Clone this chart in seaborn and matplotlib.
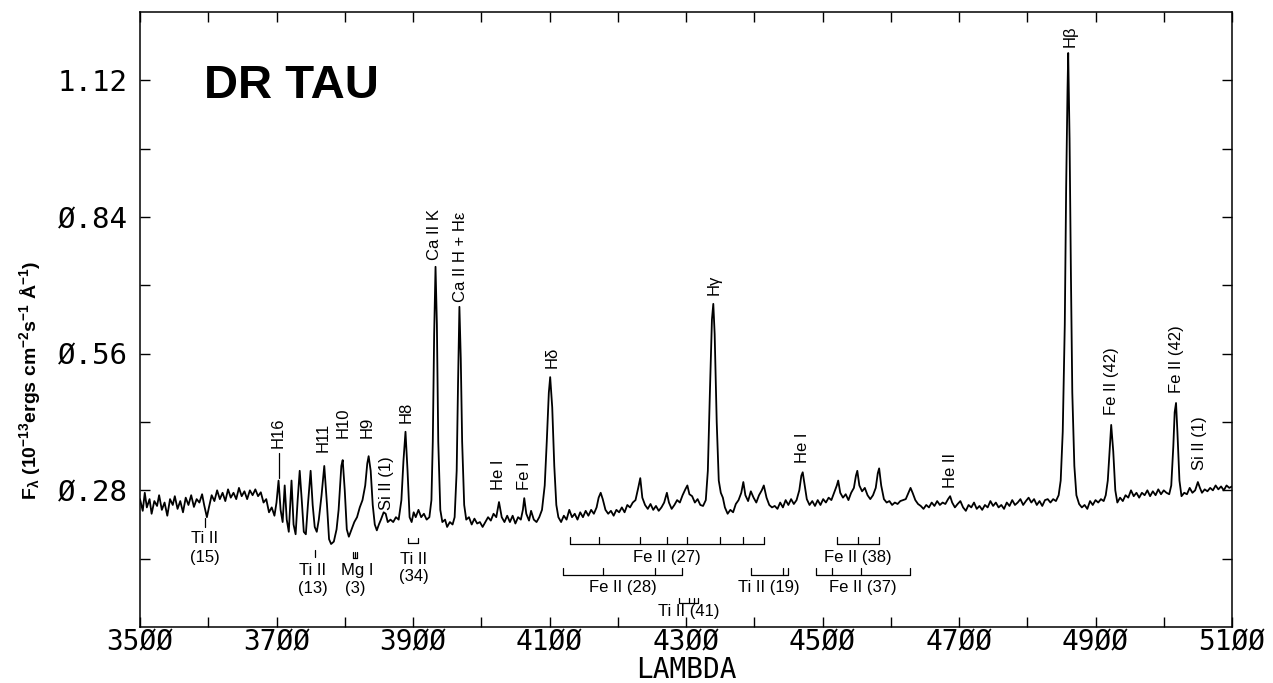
import numpy as np
import matplotlib
matplotlib.use("Agg")
import matplotlib.pyplot as plt
import seaborn as sns

# spectrum (wavelength in A, flux in 1e-13 erg/cm2/s/A)
wavelength = [
    3500, 3504, 3507, 3510, 3514, 3517, 3521, 3525, 3528, 3532,
    3536, 3540, 3544, 3548, 3551, 3555, 3559, 3563, 3567, 3571,
    3575, 3579, 3583, 3587, 3591, 3594, 3598, 3601, 3605, 3609,
    3613, 3617, 3621, 3625, 3629, 3633, 3637, 3641, 3645, 3649,
    3653, 3657, 3661, 3665, 3669, 3673, 3677, 3681, 3685, 3689,
    3693, 3697, 3700, 3703, 3706, 3709, 3712, 3715, 3718, 3722,
    3725, 3728, 3731, 3734, 3737, 3740, 3743, 3746, 3750, 3753,
    3756, 3759, 3762, 3766, 3770, 3774, 3777, 3780, 3784, 3788,
    3791, 3795, 3797, 3800, 3803, 3806, 3810, 3814, 3818, 3822,
    3826, 3830, 3833, 3835, 3838, 3841, 3844, 3847, 3850, 3853,
    3857, 3860, 3863, 3867, 3871, 3875, 3879, 3883, 3886, 3889,
    3892, 3895, 3898, 3901, 3904, 3908, 3912, 3916, 3920, 3924,
    3927, 3929, 3931, 3933, 3935, 3937, 3940, 3943, 3947, 3950,
    3954, 3958, 3961, 3964, 3966, 3968, 3970, 3972, 3975, 3978,
    3982, 3986, 3990, 3994, 3998, 4002, 4006, 4010, 4014, 4018,
    4022, 4026, 4030, 4034, 4038, 4042, 4046, 4050, 4054, 4058,
    4061, 4063, 4066, 4070, 4073, 4077, 4081, 4085, 4089, 4093,
    4096, 4099, 4101, 4104, 4107, 4110, 4113, 4117, 4121, 4125,
    4129, 4133, 4137, 4141, 4145, 4149, 4153, 4157, 4161, 4165,
    4169, 4172, 4175, 4178, 4182, 4186, 4190, 4194, 4198, 4202,
    4206, 4210, 4214, 4218, 4222, 4226, 4230, 4233, 4236, 4240,
    4244, 4248, 4252, 4256, 4260, 4264, 4268, 4272, 4275, 4279,
    4283, 4287, 4291, 4295, 4299, 4302, 4305, 4309, 4313, 4317,
    4321, 4325, 4329, 4332, 4335, 4338, 4340, 4342, 4345, 4348,
    4351, 4354, 4357, 4361, 4365, 4369, 4373, 4377, 4381, 4384,
    4387, 4391, 4395, 4399, 4403, 4407, 4411, 4414, 4418, 4422,
    4426, 4430, 4434, 4438, 4442, 4446, 4450, 4454, 4458, 4462,
    4466, 4469, 4471, 4474, 4477, 4481, 4485, 4489, 4493, 4497,
    4501, 4505, 4509, 4513, 4517, 4521, 4523, 4526, 4530, 4534,
    4538, 4542, 4546, 4549, 4551, 4554, 4558, 4562, 4566, 4570,
    4574, 4578, 4581, 4583, 4586, 4590, 4594, 4598, 4602, 4606,
    4610, 4614, 4618, 4622, 4626, 4629, 4632, 4636, 4640, 4644,
    4648, 4652, 4656, 4660, 4664, 4668, 4672, 4676, 4680, 4684,
    4687, 4690, 4694, 4698, 4702, 4706, 4710, 4714, 4718, 4722,
    4726, 4730, 4734, 4738, 4742, 4746, 4750, 4754, 4758, 4762,
    4766, 4770, 4774, 4778, 4782, 4786, 4790, 4794, 4798, 4802,
    4806, 4810, 4814, 4818, 4822, 4826, 4830, 4834, 4838, 4842,
    4846, 4849, 4852, 4855, 4857, 4859, 4860, 4862, 4864, 4866,
    4869, 4872, 4876, 4880, 4884, 4888, 4892, 4896, 4900, 4904,
    4908, 4912, 4915, 4918, 4921, 4923, 4926, 4929, 4932, 4936,
    4940, 4944, 4948, 4952, 4956, 4960, 4964, 4968, 4972, 4976,
    4980, 4984, 4988, 4992, 4996, 5000, 5004, 5008, 5011, 5014,
    5016, 5018, 5020, 5023, 5026, 5030, 5034, 5038, 5042, 5046,
    5050, 5053, 5056, 5060, 5064, 5068, 5072, 5076, 5080, 5084,
    5088, 5092, 5096, 5100,
]
flux = [
    .262, .238, .275, .245, .262, .232, .258, .248, .270, .240,
    .255, .228, .262, .250, .268, .242, .258, .235, .265, .250,
    .270, .246, .262, .255, .272, .250, .225, .245, .270, .258,
    .280, .262, .275, .258, .282, .265, .275, .262, .285, .268,
    .278, .262, .280, .270, .282, .268, .276, .255, .262, .235,
    .245, .228, .255, .300, .240, .215, .290, .220, .195, .300,
    .210, .190, .260, .320, .260, .195, .190, .250, .320, .250,
    .205, .195, .220, .270, .330, .250, .180, .170, .175, .200,
    .240, .330, .342, .280, .200, .185, .200, .215, .225, .245,
    .260, .290, .335, .350, .320, .250, .210, .198, .210, .220,
    .235, .232, .215, .220, .215, .225, .220, .260, .340, .400,
    .320, .225, .215, .235, .225, .240, .225, .232, .220, .225,
    .260, .380, .600, .738, .620, .380, .240, .215, .220, .205,
    .215, .210, .225, .320, .500, .656, .550, .380, .250, .220,
    .225, .210, .222, .212, .215, .205, .215, .225, .218, .232,
    .225, .256, .225, .215, .228, .215, .228, .212, .225, .220,
    .240, .264, .232, .218, .238, .220, .215, .225, .240, .290,
    .380, .480, .512, .450, .330, .250, .225, .215, .228, .220,
    .240, .225, .232, .220, .235, .225, .238, .228, .240, .232,
    .245, .265, .275, .262, .240, .232, .238, .228, .240, .235,
    .245, .235, .250, .245, .255, .260, .285, .305, .265, .250,
    .242, .252, .240, .248, .238, .245, .255, .275, .255, .242,
    .250, .260, .255, .270, .282, .290, .272, .268, .255, .262,
    .250, .248, .260, .320, .480, .630, .662, .600, .420, .300,
    .275, .265, .245, .232, .240, .235, .252, .260, .275, .297,
    .270, .258, .278, .265, .255, .270, .280, .290, .265, .250,
    .245, .248, .242, .255, .245, .260, .250, .262, .252, .260,
    .280, .310, .317, .290, .262, .250, .258, .248, .260, .250,
    .262, .255, .265, .260, .275, .290, .300, .275, .265, .272,
    .260, .275, .285, .310, .320, .290, .278, .285, .270, .262,
    .270, .285, .315, .325, .290, .262, .255, .258, .250, .255,
    .252, .258, .260, .262, .275, .285, .275, .260, .252, .248,
    .242, .250, .245, .255, .248, .258, .250, .255, .252, .262,
    .268, .255, .245, .252, .258, .245, .238, .250, .245, .255,
    .242, .248, .240, .250, .245, .258, .248, .255, .245, .250,
    .242, .255, .248, .260, .250, .255, .262, .250, .258, .265,
    .255, .262, .250, .258, .248, .260, .262, .255, .262, .258,
    .270, .300, .400, .620, .900, 1.100, 1.176, 1.000, .720, .480,
    .330, .270, .252, .245, .250, .242, .258, .250, .260, .255,
    .262, .258, .270, .300, .370, .414, .360, .280, .255, .265,
    .258, .270, .265, .280, .268, .275, .265, .275, .270, .280,
    .268, .278, .270, .282, .272, .280, .275, .272, .290, .370,
    .440, .459, .400, .300, .268, .275, .272, .285, .275, .280,
    .297, .285, .275, .282, .278, .285, .280, .290, .282, .288,
    .280, .290, .285, .288,
]
assert len(wavelength) == len(flux)

# emission line identifications (label, wavelength)
line_names = ["H16", "H11", "H10", "H9", "Si II (1)", "H8", "Ca II K",
              "Ca II H + H\u03b5", "He I", "Fe I", "H\u03b4", "H\u03b3",
              "He I", "He II", "H\u03b2", "Fe II (42)", "Fe II (42)",
              "Si II (1)"]
line_waves = [3703, 3769, 3797, 3833, 3861, 3890, 3931, 3969, 4026, 4064,
              4104, 4341, 4471, 4688, 4863, 4924, 5019, 5053]

# absorption multiplet markers below the spectrum
multiplet_names = ["Fe II (27)", "Fe II (28)", "Ti II (41)", "Ti II (19)",
                   "Fe II (38)", "Fe II (37)"]
multiplet_waves = [
    [4130, 4173, 4232, 4272, 4301, 4350, 4384, 4414],
    [4120, 4178, 4255, 4294],
    [4290, 4304, 4312, 4318],
    [4395, 4442, 4449],
    [4521, 4552, 4583],
    [4491, 4514, 4556, 4628],
]

sns.set_theme(style="ticks")
plt.rcParams["font.family"] = ["Liberation Sans", "DejaVu Sans"]
plt.rcParams["mathtext.default"] = "regular"
for k in ["text.color", "axes.labelcolor", "xtick.color", "ytick.color",
          "axes.edgecolor"]:
    plt.rcParams[k] = "black"

fig = plt.figure(figsize=(12.73, 6.83), dpi=100)
ax = fig.add_axes([140 / 1273, 1 - 627 / 683, 1092 / 1273, 615 / 683])

sns.lineplot(x=wavelength, y=flux, ax=ax, color="black", linewidth=1.3,
             estimator=None)

ax.set_xlim(3500, 5100)
ax.set_ylim(0, 1.26)

mono = "DejaVu Sans Mono"
xt = list(range(3500, 5101, 100))
ax.set_xticks(xt)
ax.set_xticklabels([str(t).replace("0", "\u00d8") if (t - 3500) % 200 == 0 else ""
                    for t in xt], fontfamily=mono, fontsize=20)
yt = [0.14 * i for i in range(1, 9)]
ax.set_yticks(yt)
ax.set_yticklabels([("%.2f" % v).replace("0", "\u00d8") if i % 2 == 1 else ""
                    for i, v in enumerate(yt)], fontfamily=mono, fontsize=21)
ax.tick_params(direction="in", length=7, width=1, top=True, right=True,
               colors="black")
ax.tick_params(axis="x", pad=1)
ax.tick_params(axis="y", pad=9)
for s in ax.spines.values():
    s.set_linewidth(1.1)
    s.set_color("black")

ax.set_xlabel("LAMBDA", fontfamily=mono, fontsize=20, labelpad=0)
ax.set_ylabel(r"F$_\lambda$ (10$^{-13}$ergs cm$^{-2}$s$^{-1}$ $\AA^{-1}$)",
              fontsize=14, fontweight="bold")
ax.yaxis.set_label_coords(-0.0888, 0.40)

ax.text(0.0586, 0.860, "DR TAU", transform=ax.transAxes, fontsize=34,
        fontweight="bold", va="baseline", ha="left")

# rotated identifications above the peaks
label_bottom = [0.367, 0.359, 0.387, 0.387, 0.240, 0.418, 0.752, 0.666,
                0.281, 0.281, 0.531, 0.680, 0.336, 0.285, 1.189, 0.434,
                0.480, 0.322]
for name, w, yb in zip(line_names, line_waves, label_bottom):
    ax.text(w, yb, name, rotation=90, ha="center", va="bottom", fontsize=12)
ax.plot([3703, 3703], [0.305, 0.357], color="black", linewidth=0.9)

# multiplet brackets
levels = [0.170, 0.107, 0.049, 0.107, 0.170, 0.107]
tick_h = [0.0143, 0.0143, 0.011, 0.0143, 0.0143, 0.0143]
text_y = [0.143, 0.080, 0.031, 0.080, 0.143, 0.080]
for name, ws, y0, h, ty in zip(multiplet_names, multiplet_waves, levels,
                               tick_h, text_y):
    ax.plot([min(ws), max(ws)], [y0, y0], color="black", linewidth=0.9)
    for w in ws:
        ax.plot([w, w], [y0, y0 + h], color="black", linewidth=0.9)
    ax.text((min(ws) + max(ws)) / 2, ty, name, ha="center", va="center",
            fontsize=12)

# single line markers with two-line labels
ax.plot([3595, 3595], [0.205, 0.223], color="black", linewidth=0.9)
ax.text(3595, 0.182, "Ti II", ha="center", va="center", fontsize=12)
ax.text(3595, 0.143, "(15)", ha="center", va="center", fontsize=12)

ax.plot([3757, 3757], [0.143, 0.158], color="black", linewidth=0.9)
ax.text(3753, 0.115, "Ti II", ha="center", va="center", fontsize=12)
ax.text(3753, 0.078, "(13)", ha="center", va="center", fontsize=12)

mg = [3812, 3815, 3818]
ax.plot([mg[0], mg[-1]], [0.141, 0.141], color="black", linewidth=0.9)
for w in mg:
    ax.plot([w, w], [0.141, 0.154], color="black", linewidth=0.9)
ax.text(3819, 0.115, "Mg I", ha="center", va="center", fontsize=12)
ax.text(3815, 0.078, "(3)", ha="center", va="center", fontsize=12)

ti34 = [3893, 3907]
ax.plot(ti34, [0.172, 0.172], color="black", linewidth=0.9)
for w in ti34:
    ax.plot([w, w], [0.172, 0.182], color="black", linewidth=0.9)
ax.text(3901, 0.139, "Ti II", ha="center", va="center", fontsize=12)
ax.text(3901, 0.104, "(34)", ha="center", va="center", fontsize=12)

fig.savefig("out.png", dpi=100)
